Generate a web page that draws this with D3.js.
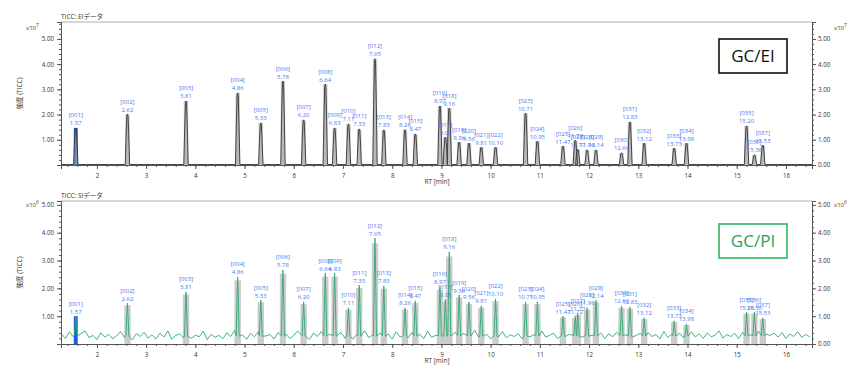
<!DOCTYPE html>
<html>
<head>
<meta charset="utf-8">
<script src="https://cdn.jsdelivr.net/npm/d3@7"></script>
<style>
body{margin:0;background:#fff;}
text{font-family:"Open Sans","Noto Sans CJK JP",sans-serif;}
</style>
</head>
<body>
<div id="chart"></div>
<script>
// peak table
var peakIds = ["001","002","003","004","005","006","007","008","009","010","011","012","013","014","015","016","017","018","019","020","021","022","023","024","025","026","027","028","029","030","031","032","033","034","035","036","037"];
var peakRT = [1.57,2.62,3.81,4.86,5.33,5.78,6.20,6.64,6.83,7.11,7.33,7.65,7.83,8.26,8.47,8.97,9.08,9.16,9.36,9.56,9.81,10.10,10.71,10.95,11.47,11.72,11.77,11.96,12.14,12.66,12.83,13.12,13.73,13.98,15.20,15.36,15.53];
// EI intensity (x10^7)
var eiHeight = [1.47,2.02,2.54,2.86,1.67,3.33,1.79,3.21,1.47,1.63,1.43,4.21,1.39,1.40,1.23,2.34,1.11,2.26,0.91,0.87,0.71,0.71,2.06,0.95,0.75,0.98,0.62,0.60,0.60,0.48,1.71,0.87,0.67,0.87,1.55,0.40,0.79];
// SI intensity (x10^6)
var siHeight = [1.00,1.47,1.87,2.41,1.58,2.66,1.51,2.55,2.55,1.30,2.12,3.81,2.09,1.30,1.55,2.05,1.60,3.31,1.76,1.51,1.37,1.62,1.51,1.51,1.00,0.98,1.10,1.30,1.58,1.37,1.33,0.94,0.83,0.72,1.15,1.15,0.94];
// SI baseline noise (x10^4), one value every 0.08 min from 1.28 min
var siNoise = [36,20,44,26,17,38,47,23,31,16,40,25,35,19,29,45,24,32,15,37,
  27,42,21,33,18,39,25,47,17,31,36,22,41,20,32,26,46,16,35,24,
  31,19,40,27,49,21,33,17,38,26,44,22,29,34,18,41,25,36,20,31,
  47,24,32,16,39,27,45,19,35,25,31,42,21,38,17,34,26,48,23,32,
  20,40,28,36,18,44,25,33,22,41,27,35,19,46,24,31,39,21,34,17,
  42,26,38,20,32,49,24,29,35,19,40,25,45,22,33,27,37,18,41,26,
  34,21,47,25,31,39,20,44,27,35,17,38,24,46,29,32,22,40,19,37,
  26,42,21,33,48,25,31,38,20,41,27,34,18,45,24,35,29,39,22,32,
  44,25,37,20,40,26,31,47,21,34,27,38,19,42,24,33,28,46,22,35,
  31,39,25,41,20,36,27,44,24,34,26];
var xTicks = [2,3,4,5,6,7,8,9,10,11,12,13,14,15,16];
var yTicksLeft = [1,2,3,4,5];
var yTicksRight = [0,1,2,3,4,5];

var W = 850, H = 374;
var svg = d3.select("#chart").append("svg").attr("width", W).attr("height", H);

var x = d3.scaleLinear().domain([1.27, 16.53]).range([61, 812]);

var peaks = peakIds.map(function(id, i){
  return {id:id, rt:peakRT[i], ei:eiHeight[i], si:siHeight[i]};
});

function drawPanel(p){
  var g = svg.append("g");
  var y = d3.scaleLinear().domain([0, p.ymax]).range([p.bottom, p.top]);

  // frame top line
  g.append("line").attr("x1", 61).attr("x2", 812).attr("y1", p.top).attr("y2", p.top)
    .attr("stroke", "#b0b0b0").attr("stroke-width", 1.2);

  g.append("text").attr("x", 61).attr("y", p.top - 3).attr("font-size", 6.5).attr("fill", "#333").text(p.title);

  // axes
  function styleAxis(sel){
    sel.selectAll(".domain").attr("stroke", "#555");
    sel.selectAll(".tick line").attr("stroke", "#555");
    sel.selectAll(".tick text").attr("font-size", 6.2).attr("fill", "#333").attr("font-family", "Open Sans");
  }
  var xa = g.append("g").attr("transform", "translate(0," + p.bottom + ")")
    .call(d3.axisBottom(x).tickValues(xTicks).tickSize(4).tickPadding(5).tickFormat(d3.format("d")));
  styleAxis(xa);
  var xm = g.append("g").attr("transform", "translate(0," + p.bottom + ")")
    .call(d3.axisBottom(x).tickValues(d3.range(14, 166, 2).map(function(v){return v/10;})).tickSize(2).tickFormat(""));
  styleAxis(xm);

  var minor = d3.range(0, Math.floor(p.ymax*5)+1).map(function(v){return v/5;});
  var yl = g.append("g").attr("transform", "translate(61,0)")
    .call(d3.axisLeft(y).tickValues(yTicksLeft).tickSize(4).tickPadding(3).tickFormat(d3.format(".2f")));
  styleAxis(yl);
  var ylm = g.append("g").attr("transform", "translate(61,0)")
    .call(d3.axisLeft(y).tickValues(minor).tickSize(2).tickFormat(""));
  styleAxis(ylm);
  var yr = g.append("g").attr("transform", "translate(812,0)")
    .call(d3.axisRight(y).tickValues(yTicksRight).tickSize(4).tickPadding(2).tickFormat(d3.format(".2f")));
  styleAxis(yr);
  var yrm = g.append("g").attr("transform", "translate(812,0)")
    .call(d3.axisRight(y).tickValues(minor).tickSize(2).tickFormat(""));
  styleAxis(yrm);

  // exponent labels
  var ex = g.append("text").attr("x", 26).attr("y", p.expY).attr("font-size", 6).attr("fill", "#333");
  ex.append("tspan").text("x10");
  ex.append("tspan").attr("dy", -3).attr("font-size", 4.8).text(p.exp);
  var ex2 = g.append("text").attr("x", 834).attr("y", p.expY).attr("font-size", 6).attr("fill", "#333");
  ex2.append("tspan").text("x10");
  ex2.append("tspan").attr("dy", -3).attr("font-size", 4.8).text(p.exp);

  // axis titles
  g.append("text").attr("transform", "translate(22," + ((p.top + p.bottom)/2) + ") rotate(-90)")
    .attr("text-anchor", "middle").attr("font-size", 6.5).attr("fill", "#333").text("強度 (TICC)");
  g.append("text").attr("x", 437).attr("y", p.bottom + 19).attr("text-anchor", "middle")
    .attr("font-size", 6.5).attr("fill", "#333").text("RT [min]");

  // integration areas
  g.selectAll("rect.area").data(peaks.slice(1)).enter().append("rect").attr("class", "area")
    .attr("x", function(d){ return x(d.rt - p.areaW/2); })
    .attr("width", function(d){ return x(d.rt + p.areaW/2) - x(d.rt - p.areaW/2); })
    .attr("y", function(d){ return y(d[p.key] * p.areaFrac); })
    .attr("height", function(d){ return p.bottom - y(d[p.key] * p.areaFrac); })
    .attr("fill", p.areaColor);

  // first peak highlighted in blue
  var first = peaks[0];
  g.append("rect").attr("x", x(first.rt - 0.04)).attr("width", x(first.rt + 0.04) - x(first.rt - 0.04))
    .attr("y", y(first[p.key])).attr("height", p.bottom - y(first[p.key])).attr("fill", "#1a5ee0");

  p.drawTrace(g, y);

  // peak labels
  var lab = g.selectAll("g.lab").data(peaks).enter().append("g").attr("class", "lab");
  lab.append("text").attr("x", function(d){ return x(d.rt); })
    .attr("y", function(d){ return y(d[p.key]) - 10.5; })
    .attr("text-anchor", "middle").attr("font-size", 6).attr("fill", "#4a78f5")
    .text(function(d){ return "[" + d.id + "]"; });
  lab.append("text").attr("x", function(d){ return x(d.rt); })
    .attr("y", function(d){ return y(d[p.key]) - 2.5; })
    .attr("text-anchor", "middle").attr("font-size", 6).attr("fill", "#4a78f5")
    .text(function(d){ return d.rt.toFixed(2); });

  // legend box
  g.append("rect").attr("x", 719).attr("y", p.boxY).attr("width", 68).attr("height", 34)
    .attr("fill", "#fff").attr("stroke", p.boxColor).attr("stroke-width", 1.6);
  g.append("text").attr("x", 753).attr("y", p.boxY + 23).attr("text-anchor", "middle")
    .attr("font-size", 17).attr("fill", p.boxText).attr("font-family", "Open Sans").text(p.box);
}

// EI panel
drawPanel({
  top: 22, bottom: 165, ymax: 5.67, key: "ei", title: "TICC: EIデータ", exp: "7", expY: 30,
  areaW: 0.09, areaFrac: 1.0, areaColor: "#cfcfcf",
  box: "GC/EI", boxY: 39, boxColor: "#111", boxText: "#111",
  drawTrace: function(g, y){
    var pts = [[1.27, 0.02]];
    peaks.forEach(function(d){
      var h = d.ei;
      pts.push([d.rt - 0.045, 0.02], [d.rt - 0.028, h*0.55], [d.rt - 0.012, h*0.96], [d.rt, h],
        [d.rt + 0.012, h*0.96], [d.rt + 0.028, h*0.55], [d.rt + 0.045, 0.02]);
    });
    pts.push([16.53, 0.02]);
    g.append("path").datum(pts)
      .attr("d", d3.line().x(function(d){ return x(d[0]); }).y(function(d){ return y(d[1]); }))
      .attr("fill", "#a8a8a8").attr("fill-opacity", 0.6).attr("stroke", "#333").attr("stroke-width", 0.9);
  }
});

// SI panel
drawPanel({
  top: 201, bottom: 344, ymax: 5.14, key: "si", title: "TICC: SIデータ", exp: "6", expY: 207,
  areaW: 0.13, areaFrac: 0.95, areaColor: "#cccccc",
  box: "GC/PI", boxY: 224, boxColor: "#2fb36b", boxText: "#27a35e",
  drawTrace: function(g, y){
    var pts = [];
    siNoise.forEach(function(v, i){
      var t = 1.28 + i*0.08;
      var near = peaks.some(function(d){ return Math.abs(d.rt - t) < 0.045; });
      if (!near) pts.push([t, v/100]);
    });
    peaks.forEach(function(d){
      var h = d.si;
      pts.push([d.rt - 0.03, 0.3], [d.rt - 0.012, h*0.7], [d.rt, h], [d.rt + 0.012, h*0.7], [d.rt + 0.03, 0.28]);
    });
    pts.sort(function(a, b){ return a[0] - b[0]; });
    g.append("path").datum(pts)
      .attr("d", d3.line().x(function(d){ return x(d[0]); }).y(function(d){ return y(d[1]); }))
      .attr("fill", "none").attr("stroke", "#2fa873").attr("stroke-width", 0.9);
  }
});
</script>
</body>
</html>
